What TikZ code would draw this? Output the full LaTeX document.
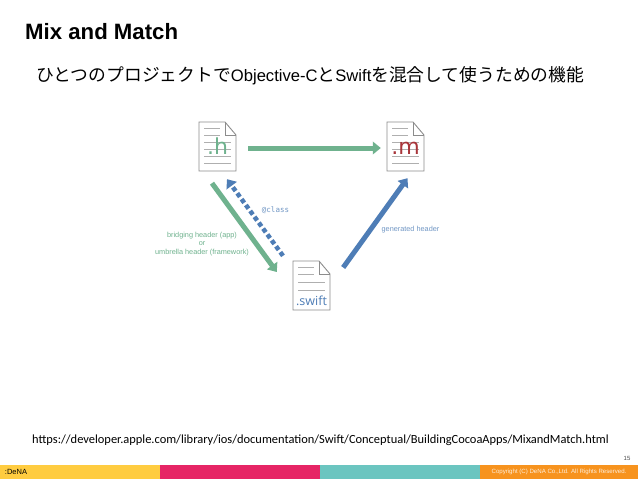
\documentclass[tikz,border=0pt]{standalone}
\usepackage{fontspec}
\setmainfont{Liberation Sans}
\setmonofont{DejaVu Sans Mono}
\newfontfamily\cjkfont{Noto Sans CJK JP}
\newfontfamily\urlfont{Carlito}
\newfontfamily\iconfont{DejaVu Sans}
\newfontfamily\swiftfont{Open Sans}
\usetikzlibrary{arrows.meta}
\definecolor{vert}{HTML}{6FB28E}
\definecolor{bleu}{HTML}{4E7DB6}
\definecolor{rouge}{HTML}{A8353A}
\definecolor{gris}{HTML}{8C8C8C}
\definecolor{jaune}{HTML}{FFCC40}
\definecolor{rose}{HTML}{E62565}
\definecolor{turquoise}{HTML}{6BC5C0}
\definecolor{orange}{HTML}{F7931E}
\tikzset{
  docfile/.style={minimum width=37pt,minimum height=49pt,inner sep=0pt},
  doctext/.style={font=\iconfont\fontsize{22}{22}\selectfont,inner sep=0pt,text height=16.7pt,text depth=0pt},
  arrowgreen/.style={draw=vert,line width=5pt,-{Triangle[length=8pt,width=12.5pt]}},
  arrowblue/.style={draw=bleu,line width=5pt,-{Triangle[length=8pt,width=12.5pt]}},
  smalllabel/.style={font=\fontsize{7.3}{8.6}\selectfont,align=center,inner sep=0pt},
  barpart/.style={inner sep=0pt,minimum height=13.5pt,minimum width=159.5pt,anchor=north west}
}
\newcommand{\docicon}[2]{
  \begin{scope}[shift={#1}]
    \path[fill=white,draw=gris,line width=0.9pt] (0,0) -- (26,0) -- (37,13) -- (37,49) -- (0,49) -- cycle;
    \path[draw=gris,line width=0.7pt] (26,0) -- (26,13) -- (37,13);
    \path[draw=gris!70,line width=0.8pt] (5,6) -- (21,6);
    \path[draw=gris!70,line width=0.8pt] (5,13) -- (21,13);
    \foreach \y in {#2} {
      \path[draw=gris!70,line width=0.8pt] (5,\y) -- (32,\y);
    }
  \end{scope}
}

\begin{document}
\begin{tikzpicture}[x=1pt,y=-1pt]
  \useasboundingbox[fill=white] (0,0) rectangle (638,479);

  % Titles.
  \node[anchor=west,inner sep=0pt,font=\bfseries\fontsize{22.2}{22}\selectfont] (title) at (25,32) {Mix and Match};
  \node[anchor=west,inner sep=0pt,font=\fontsize{16.6}{18}\selectfont] (subtitle) at (36.5,76)
    {{\cjkfont\fontsize{17.77}{18}\selectfont ひとつのプロジェクトで}Objective-C{\cjkfont\fontsize{17.77}{18}\selectfont と}Swift{\cjkfont\fontsize{17.77}{18}\selectfont を混合して使うための機能}};

  % Files.
  \docicon{(199,122)}{20,27,34,41}
  \docicon{(387,122)}{20,27,34,41}
  \docicon{(293,261)}{21,29}
  \node[docfile] (hfile) at (217.5,146.5) {};
  \node[docfile] (mfile) at (405.5,146.5) {};
  \node[docfile] (swiftfile) at (311.5,285.5) {};
  \node[doctext,text=vert] (hlabel) at (hfile.center) {.h};
  \node[doctext,text=rouge] (mlabel) at (mfile.center) {.m};
  \node[doctext,text=bleu,font=\swiftfont\fontsize{12.5}{13}\selectfont,text height=9.5pt] (swiftlabel) at ([yshift=-15pt]swiftfile.center) {.swift};

  % Arrows.
  \draw[arrowgreen] ([xshift=12pt,yshift=-1.5pt]hfile.east) -- ([xshift=-6pt,yshift=-1.5pt]mfile.west);
  \draw[arrowgreen] ([xshift=-5.5pt,yshift=-12pt]hfile.south) -- ([xshift=-16pt,yshift=13.5pt]swiftfile.west);
  \draw[arrowblue,dash pattern=on 4.5pt off 2.8pt,line width=4.5pt] ([xshift=-28.5pt,yshift=5pt]swiftfile.north) -- ([xshift=9.5pt,yshift=-8pt]hfile.south);
  \draw[arrowblue] ([xshift=13pt,yshift=18pt]swiftfile.east) -- ([xshift=2pt,yshift=-7pt]mfile.south);

  % Labels.
  \node[smalllabel,text=vert] (bridging) at (202,244) {bridging header (app)\\or\\umbrella header (framework)};
  \node[smalllabel,text=bleu!80,font=\ttfamily\fontsize{7.5}{8}\selectfont] (classlabel) at (275.5,210) {@class};
  \node[smalllabel,text=bleu!80] (generated) at (410.5,230) {generated header};

  % Footer.
  \node[anchor=west,inner sep=0pt,font=\urlfont\fontsize{12.43}{14}\selectfont] (link) at (32,440.5)
    {https://developer.apple.com/library/ios/documentation/Swift/Conceptual/BuildingCocoaApps/MixandMatch.html};
  \node[inner sep=0pt,text=black!70,font=\fontsize{6}{6}\selectfont] (pagenum) at (627,458) {15};
  \node[barpart,fill=jaune] (baryellow) at (0,465) {};
  \node[barpart,fill=rose] (barpink) at (baryellow.north east) {};
  \node[barpart,fill=turquoise] (barteal) at (barpink.north east) {};
  \node[barpart,fill=orange] (barorange) at (barteal.north east) {};
  \node[inner sep=0pt,font=\fontsize{7.5}{7}\selectfont] (logo) at (16,472) {:DeNA};
  \node[inner sep=0pt,text=white!85!orange,font=\fontsize{6.1}{6}\selectfont] (copyright) at (559,472) {Copyright (C) DeNA Co.,Ltd. All Rights Reserved.};
\end{tikzpicture}
\end{document}
